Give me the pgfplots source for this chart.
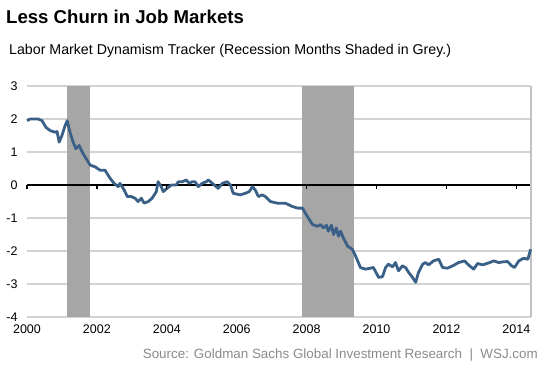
\documentclass[border=0pt]{standalone}
\usepackage{pgfplots}
\pgfplotsset{compat=1.18}
\usepackage{fontspec}
\setmainfont{Liberation Sans}
\definecolor{linecol}{HTML}{3B6087}
\definecolor{shade}{HTML}{A6A6A6}
\definecolor{gridc}{HTML}{D3D3D3}
\definecolor{srcc}{HTML}{8A8A8A}
\begin{document}
\begin{tikzpicture}
\useasboundingbox (0,0) rectangle (553pt,369pt);
\begin{axis}[
  at={(27pt,52pt)}, anchor=south west,
  scale only axis, width=504pt, height=231pt,
  xmin=2000, xmax=2014.42, ymin=-4, ymax=3,
  xtick={2000,2002,...,2014}, ytick={-4,-3,...,3},
  /pgf/number format/1000 sep={},
  /pgf/number format/assume math mode=true,
  tick label style={font=\fontsize{12.5}{14}\selectfont, text=black},
  yticklabel style={xshift=-6pt},
  xticklabel style={yshift=-4pt},
  major tick length=0pt,
  axis line style={draw=none},
  ymajorgrids, grid style={gridc, line width=1.2pt},
  clip=false,
]
\addplot[fill=shade, draw=none] coordinates {(2001.15,-4) (2001.15,3) (2001.8,3) (2001.8,-4)} -- cycle;
\addplot[fill=shade, draw=none] coordinates {(2007.88,-4) (2007.88,3) (2009.35,3) (2009.35,-4)} -- cycle;
\draw[black, line width=1.6pt] (axis cs:2000,0) -- (axis cs:2014.42,0);
\draw[gridc!80!gray, line width=1.2pt] (rel axis cs:1,0) -- (rel axis cs:1,1);
\addplot[linecol, line width=2.8pt, line join=round] coordinates {
(2000.00,1.95) (2000.09,2.0) (2000.32,2.0) (2000.43,1.95) (2000.54,1.75) (2000.66,1.65)
(2000.80,1.6) (2000.86,1.62) (2000.92,1.3) (2001.00,1.5) (2001.09,1.8) (2001.15,1.95)
(2001.23,1.6) (2001.32,1.3) (2001.40,1.1) (2001.49,1.2) (2001.58,1.0) (2001.69,0.8)
(2001.81,0.6) (2001.95,0.55) (2002.09,0.45) (2002.23,0.45) (2002.38,0.2) (2002.49,0.05)
(2002.61,-0.05) (2002.66,0.05) (2002.78,-0.15) (2002.87,-0.35) (2002.98,-0.35) (2003.09,-0.4)
(2003.18,-0.5) (2003.27,-0.4) (2003.35,-0.55) (2003.47,-0.5) (2003.58,-0.4) (2003.70,-0.2)
(2003.75,0.1) (2003.84,-0.05) (2003.90,-0.2) (2004.01,-0.1) (2004.13,0.0) (2004.27,0.0)
(2004.33,0.1) (2004.44,0.1) (2004.56,0.15) (2004.64,0.05) (2004.73,0.1) (2004.81,0.1)
(2004.90,-0.05) (2005.01,0.05) (2005.13,0.1) (2005.19,0.15) (2005.36,0.0) (2005.47,-0.1)
(2005.59,0.05) (2005.73,0.1) (2005.82,0.0) (2005.90,-0.25) (2006.10,-0.3) (2006.25,-0.25)
(2006.36,-0.2) (2006.45,-0.05) (2006.53,-0.15) (2006.62,-0.35) (2006.73,-0.3) (2006.82,-0.35)
(2006.96,-0.5) (2007.16,-0.55) (2007.39,-0.55) (2007.59,-0.65) (2007.74,-0.7) (2007.88,-0.7)
(2008.02,-0.95) (2008.17,-1.2) (2008.31,-1.25) (2008.40,-1.2) (2008.48,-1.3) (2008.57,-1.22)
(2008.62,-1.4) (2008.71,-1.22) (2008.77,-1.5) (2008.85,-1.3) (2008.91,-1.55) (2008.97,-1.4)
(2009.05,-1.6) (2009.17,-1.85) (2009.31,-1.95) (2009.40,-2.15) (2009.54,-2.5) (2009.68,-2.55)
(2009.83,-2.52) (2009.91,-2.5) (2010.06,-2.8) (2010.17,-2.78) (2010.26,-2.5) (2010.34,-2.4)
(2010.46,-2.48) (2010.54,-2.35) (2010.63,-2.6) (2010.74,-2.45) (2010.83,-2.5) (2010.92,-2.65)
(2011.03,-2.8) (2011.12,-2.95) (2011.20,-2.65) (2011.32,-2.4) (2011.40,-2.35) (2011.49,-2.42)
(2011.63,-2.3) (2011.78,-2.25) (2011.89,-2.5) (2012.03,-2.52) (2012.18,-2.45) (2012.35,-2.35)
(2012.52,-2.3) (2012.63,-2.42) (2012.78,-2.55) (2012.89,-2.38) (2013.04,-2.42) (2013.24,-2.35)
(2013.35,-2.3) (2013.50,-2.35) (2013.61,-2.33) (2013.75,-2.32) (2013.87,-2.45) (2013.95,-2.5)
(2014.07,-2.3) (2014.21,-2.22) (2014.33,-2.25) (2014.41,-1.95)
};
\end{axis}
\begin{axis}[
  at={(27pt,52pt)}, anchor=south west,
  scale only axis, width=504pt, height=231pt,
  xmin=2000, xmax=2014.42, ymin=-4, ymax=3,
  axis x line=middle, axis y line=none,
  axis line style={draw=none},
  xtick={2000,2002,...,2014}, xticklabels={},
  major tick length=4pt, xtick align=outside,
  tick style={black, line width=1.2pt},
]
\end{axis}
\node[anchor=base west, inner sep=0, font=\fontsize{18.6}{22}\selectfont\bfseries] at (6pt,345pt) {Less Churn in Job Markets};
\node[anchor=base west, inner sep=0, font=\fontsize{14.2}{17}\selectfont] at (9pt,314pt) {Labor Market Dynamism Tracker (Recession Months Shaded in Grey.)};
\node[anchor=base east, inner sep=0, text=srcc, font=\fontsize{13.4}{16}\selectfont] at (538pt,11pt) {Source: Goldman Sachs Global Investment Research \ | \ WSJ.com};
\end{tikzpicture}
\end{document}
